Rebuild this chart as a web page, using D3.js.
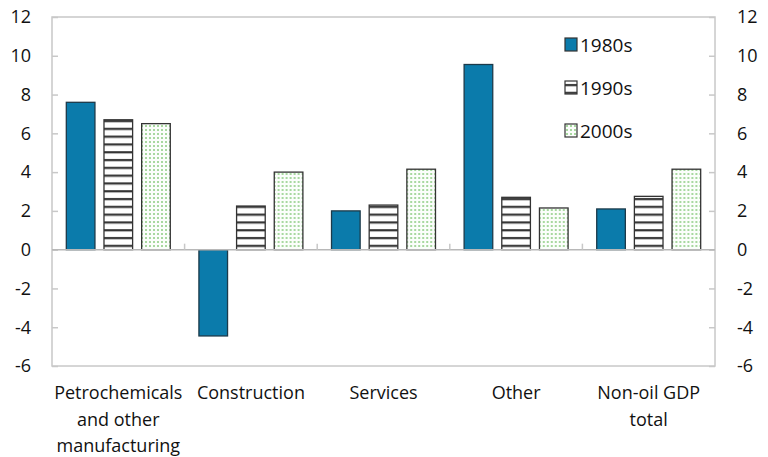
<!DOCTYPE html>
<html>
<head>
<meta charset="utf-8">
<script src="https://cdn.jsdelivr.net/npm/d3@7"></script>
<style>
  body { margin: 0; background: #fff; }
  svg text { font-family: "Open Sans", "DejaVu Sans Condensed", sans-serif; fill: #111; }
</style>
</head>
<body>
<svg width="768" height="457"></svg>
<script>
// chart data
const categories = [
    ["Petrochemicals", "and other", "manufacturing"],
    ["Construction"],
    ["Services"],
    ["Other"],
    ["Non-oil GDP", "total"]
];
const series = ["1980s", "1990s", "2000s"];
const values1980s = [7.6, -4.45, 2.0, 9.55, 2.1];
const values1990s = [6.7, 2.25, 2.3, 2.7, 2.75];
const values2000s = [6.5, 4.0, 4.15, 2.15, 4.15];
const yTicks = [-6, -4, -2, 0, 2, 4, 6, 8, 10, 12];

const allValues = [values1980s, values1990s, values2000s];

const svg = d3.select("svg");
const defs = svg.append("defs");

// horizontal stripes for the 1990s bars
const stripes = defs.append("pattern")
    .attr("id", "stripes")
    .attr("patternUnits", "userSpaceOnUse")
    .attr("width", 8)
    .attr("height", 7.8);
stripes.append("rect").attr("width", 8).attr("height", 7.8).attr("fill", "#fff");
stripes.append("rect").attr("y", 3).attr("width", 8).attr("height", 2.2).attr("fill", "#333");

// light green dots for the 2000s bars
const dots = defs.append("pattern")
    .attr("id", "dots")
    .attr("patternUnits", "userSpaceOnUse")
    .attr("width", 4)
    .attr("height", 4);
dots.append("rect").attr("width", 4).attr("height", 4).attr("fill", "#fbfefb");
dots.append("rect").attr("x", 1).attr("y", 1).attr("width", 2).attr("height", 2).attr("fill", "#a8d8a0");

const fills = ["#0b7bab", "url(#stripes)", "url(#dots)"];

// plot area
const plotLeft = 52, plotRight = 715, plotTop = 17, plotBottom = 366;

const x = d3.scaleBand()
    .domain(d3.range(categories.length))
    .range([plotLeft, plotRight]);

const xInner = d3.scaleBand()
    .domain(series)
    .range([0, x.bandwidth()])
    .paddingInner(0.24)
    .paddingOuter(0.38);

const y = d3.scaleLinear()
    .domain([-6, 12])
    .range([plotBottom, plotTop]);

// frame
svg.append("rect")
    .attr("x", plotLeft)
    .attr("y", plotTop)
    .attr("width", plotRight - plotLeft)
    .attr("height", plotBottom - plotTop)
    .attr("fill", "none")
    .attr("stroke", "#c8c8c8")
    .attr("stroke-width", 1.5);

// left axis
const leftAxis = svg.append("g")
    .attr("transform", `translate(${plotLeft},0)`)
    .call(d3.axisRight(y).tickValues(yTicks).tickSize(6).tickFormat(""));
leftAxis.select(".domain").remove();
leftAxis.selectAll("line").attr("stroke", "#c8c8c8").attr("stroke-width", 1.5);

// right axis
const rightAxis = svg.append("g")
    .attr("transform", `translate(${plotRight},0)`)
    .call(d3.axisLeft(y).tickValues(yTicks).tickSize(6).tickFormat(""));
rightAxis.select(".domain").remove();
rightAxis.selectAll("line").attr("stroke", "#c8c8c8").attr("stroke-width", 1.5);

// tick labels
svg.append("g").selectAll("text")
    .data(yTicks)
    .join("text")
    .attr("x", 31)
    .attr("y", d => y(d))
    .attr("dy", "0.35em")
    .attr("text-anchor", "end")
    .attr("font-size", 18)
    .text(d => d);

svg.append("g").selectAll("text")
    .data(yTicks)
    .join("text")
    .attr("x", 737)
    .attr("y", d => y(d))
    .attr("dy", "0.35em")
    .attr("text-anchor", "start")
    .attr("font-size", 18)
    .text(d => d);

// bars
categories.forEach((cat, i) => {
    const g = svg.append("g").attr("transform", `translate(${x(i)},0)`);
    series.forEach((s, j) => {
        const v = allValues[j][i];
        g.append("rect")
            .attr("x", xInner(s))
            .attr("y", y(Math.max(0, v)))
            .attr("width", xInner.bandwidth())
            .attr("height", Math.abs(y(v) - y(0)))
            .attr("fill", fills[j])
            .attr("stroke", j === 0 ? "#1c3a4a" : "#333")
            .attr("stroke-width", 1.3);
    });
});

// zero line with category ticks
svg.append("line")
    .attr("x1", plotLeft)
    .attr("x2", plotRight)
    .attr("y1", y(0))
    .attr("y2", y(0))
    .attr("stroke", "#b8b8b8")
    .attr("stroke-width", 1.5);

svg.append("g").selectAll("line")
    .data(d3.range(1, categories.length))
    .join("line")
    .attr("x1", d => x(d))
    .attr("x2", d => x(d))
    .attr("y1", y(0))
    .attr("y2", y(0) - 6)
    .attr("stroke", "#c8c8c8")
    .attr("stroke-width", 1.5);

// category labels
categories.forEach((lines, i) => {
    const t = svg.append("text")
        .attr("x", x(i) + x.bandwidth() / 2)
        .attr("y", 399)
        .attr("text-anchor", "middle")
        .attr("font-size", 18);
    lines.forEach((line, k) => {
        t.append("tspan")
            .attr("x", x(i) + x.bandwidth() / 2)
            .attr("dy", k === 0 ? 0 : 26.5)
            .text(line);
    });
});

// legend
const legend = svg.append("g").attr("transform", "translate(565,38)");
series.forEach((s, j) => {
    const row = legend.append("g").attr("transform", `translate(0,${j * 43})`);
    row.append("rect")
        .attr("width", 12)
        .attr("height", 13)
        .attr("fill", fills[j])
        .attr("stroke", "#333")
        .attr("stroke-width", 1.2);
    row.append("text")
        .attr("x", 15)
        .attr("y", 7)
        .attr("dy", "0.35em")
        .attr("font-size", 19)
        .text(s);
});
</script>
</body>
</html>
